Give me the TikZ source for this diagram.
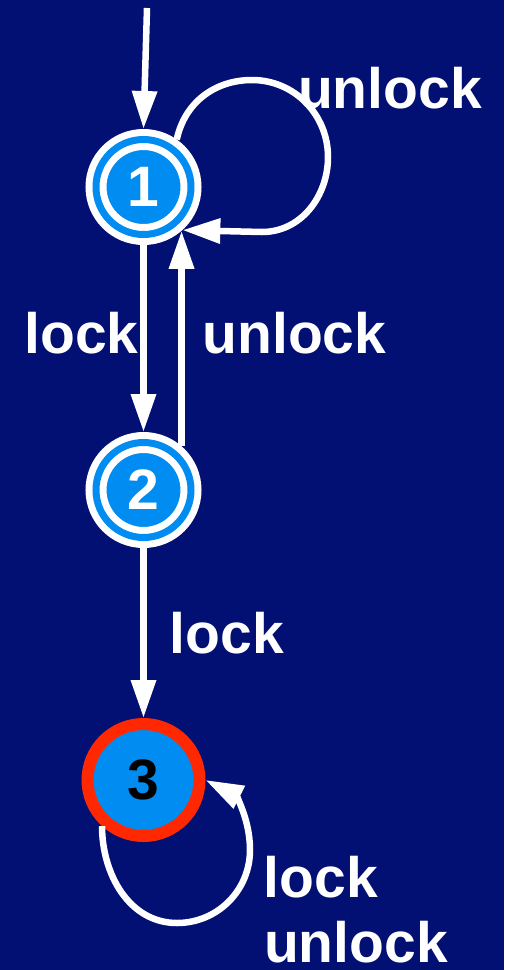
\documentclass[tikz,border=0pt]{standalone}
\usepackage{fontspec}
\setmainfont{Liberation Sans}
\usetikzlibrary{arrows.meta}
\definecolor{bg}{RGB}{2,15,115}
\definecolor{sblue}{RGB}{0,140,240}
\definecolor{sred}{RGB}{255,40,0}
\tikzset{
  bigfont/.style={font=\fontsize{57}{60}\selectfont\bfseries},
  dstate/.style={circle, inner sep=0pt, minimum size=95pt, fill=sblue,
    draw=white, line width=7pt, double=sblue, double distance=7pt,
    outer sep=10.5pt, text=white, bigfont},
  rstate/.style={circle, inner sep=0pt, minimum size=112pt, fill=sblue,
    draw=sred, line width=12pt, outer sep=6pt, text=black, bigfont},
  edgeline/.style={draw=white, line width=6.5pt,
    -{Triangle[length=38pt,width=24pt]}},
  lbl/.style={text=white, inner sep=0pt, anchor=base, bigfont}
}
\begin{document}
\begin{tikzpicture}[x=1pt,y=1pt]
\fill[bg] (0,0) rectangle (504,-970);
\useasboundingbox (0,0) rectangle (504,-970);

\node[dstate] (n1) at (143.5,-187) {1};
\node[dstate] (n2) at (143.5,-490) {2};
\node[rstate] (n3) at (143.5,-780) {3};

\coordinate (start) at (147,-8);
\draw[edgeline] (start) -- (n1.north);

% self loop on 1
\draw[edgeline] (n1.55) to[out=78,in=180] (252,-80) to[out=0,in=90] (328,-157)
  to[out=-90,in=0] (262,-232) -- (n1.-48);

\draw[edgeline] (n1.south) -- (n2.north);
\draw[edgeline] (n2.49) -- (n1.-49);
\draw[edgeline] (n2.south) -- (n3.north);

% self loop on 3
\draw[edgeline] (n3.228) to[out=-90,in=180] (177,-923) to[out=0,in=-90] (250,-850)
  to[out=90,in=-27] (n3.0);

\node[lbl] (t1) at (390,-108) {unlock};
\node[lbl] (t2) at (81.5,-353) {lock};
\node[lbl] (t3) at (294.5,-353) {unlock};
\node[lbl] (t4) at (227,-653) {lock};
\node[lbl] (t5) at (321,-897) {lock};
\node[lbl] (t6) at (356,-962) {unlock};
\end{tikzpicture}
\end{document}
